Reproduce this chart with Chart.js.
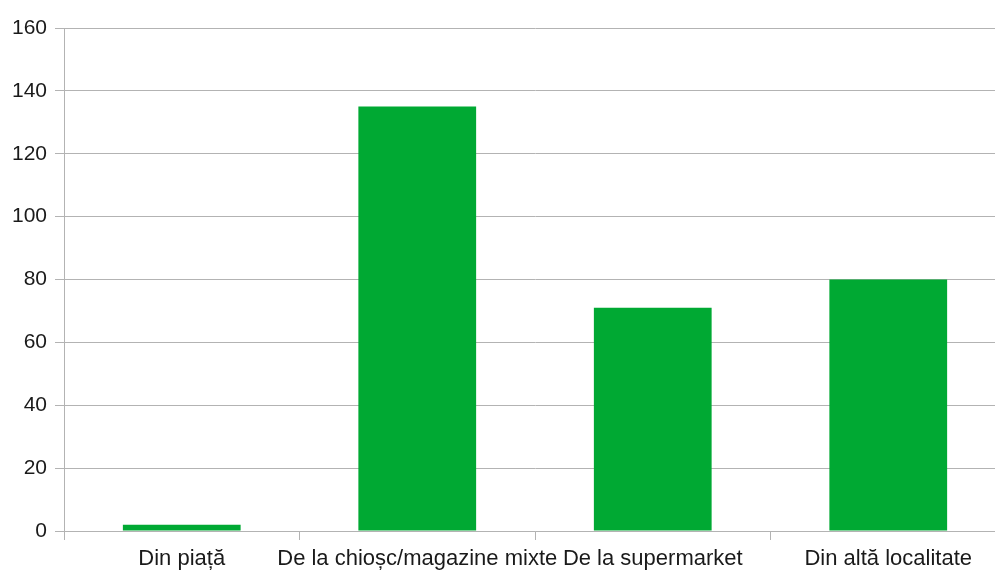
<!DOCTYPE html>
<html>
<head>
<meta charset="utf-8">
<script src="https://cdn.jsdelivr.net/npm/chart.js@4/dist/chart.umd.min.js"></script>
<style>
html,body{margin:0;padding:0;background:#fff;overflow:hidden;}
#wrap{width:1008px;height:570px;position:relative;}
</style>
</head>
<body>
<div id="wrap"><canvas id="c" width="1008" height="570"></canvas></div>
<script>
const categories = ["Din piață", "De la chioșc/magazine mixte", "De la supermarket", "Din altă localitate"];
const values = [2, 135, 71, 80];
const yTicks = [0, 20, 40, 60, 80, 100, 120, 140, 160];

const yFont = {family: "'Liberation Sans', Arial, sans-serif", size: 21};
const xFont = {family: "'Liberation Sans', Arial, sans-serif", size: 22};
new Chart(document.getElementById('c'), {
  type: 'bar',
  data: {
    labels: categories,
    datasets: [{
      data: values,
      backgroundColor: '#00a933',
      borderWidth: 0,
      barPercentage: 1,
      categoryPercentage: 0.5
    }]
  },
  options: {
    responsive: false,
    animation: false,
    events: [],
    layout: {padding: {top: 28, right: 2, left: 0, bottom: 0}},
    plugins: {legend: {display: false}, tooltip: {enabled: false}},
    scales: {
      x: {
        offset: true,
        grid: {display: true, drawOnChartArea: false, offset: true, tickLength: 9, color: '#b3b3b3', lineWidth: 1},
        border: {display: true, color: '#b3b3b3'},
        ticks: {autoSkip: false, maxRotation: 0, minRotation: 0, padding: 6, color: '#1a1a1a', font: xFont},
        afterFit(scale) { scale.height = 39; }
      },
      y: {
        min: 0, max: 160,
        afterBuildTicks(scale) { scale.ticks = yTicks.map(v => ({value: v})); },
        grid: {color: '#b3b3b3', tickLength: 9, lineWidth: 1},
        border: {display: true, color: '#b3b3b3'},
        ticks: {padding: 8, color: '#1a1a1a', font: yFont},
        afterFit(scale) { scale.width = 64; }
      }
    }
  }
});
</script>
</body>
</html>
